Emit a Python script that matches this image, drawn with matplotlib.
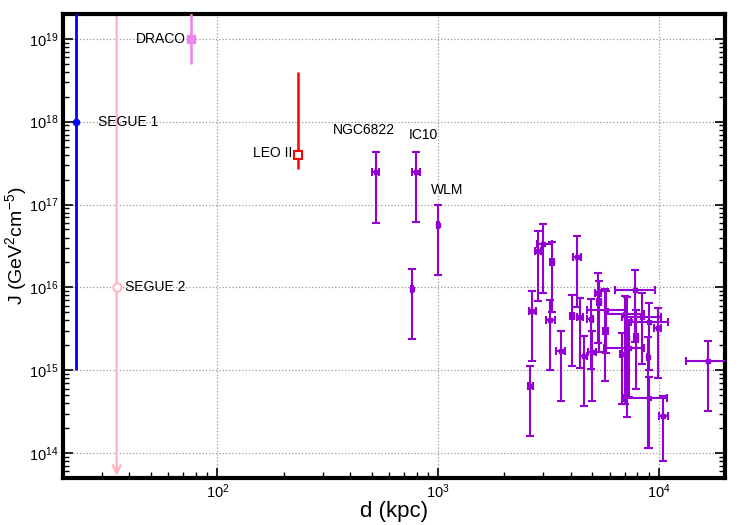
import matplotlib
matplotlib.use("Agg")
import matplotlib.pyplot as plt
import numpy as np
from matplotlib.ticker import LogLocator, NullFormatter

plt.rcParams["font.family"] = ["Liberation Sans", "DejaVu Sans"]
plt.rcParams["mathtext.default"] = "regular"

# --- named dwarfs (d in kpc, J in GeV^2 cm^-5) ---
seg1_d, seg1_J, seg1_lo, seg1_hi = 23.0, 1e18, 1e15, 1e20
seg2_d, seg2_J = 35.0, 1e16
draco_d, draco_J, draco_lo, draco_hi = 76.0, 1e19, 5e18, 1e20
leo2_d, leo2_J, leo2_lo, leo2_hi = 233.0, 4.0e17, 2.7e17, 4.0e18

# --- purple sample: d, J, J low, J high, d low, d high ---
gal_d = [522, 794, 995, 764,
         2618, 2674, 2848, 2999, 3288, 3228, 3589, 4056, 4267, 4405, 4577,
         4909, 4960, 5297, 5355, 5730, 5763, 7050, 7784, 7890, 7180, 6815,
         7310, 8400, 8913, 9010, 9890, 10420, 9010, 16650]
gal_J = [2.44e17, 2.5e17, 5.6e16, 9.6e15,
         6.46e14, 5.22e15, 2.78e16, 3.37e16, 2.04e16, 4.03e15, 1.7e15, 4.54e15,
         2.35e16, 4.34e15, 1.49e15, 4.18e15, 1.67e15, 8.6e15, 6.7e15, 2.99e15,
         5.4e15, 4.71e15, 9.3e15, 2.53e15, 2.42e15, 1.59e15, 1.83e15, 4.4e15,
         1.45e15, 3.85e15, 3.25e15, 2.8e14, 4.67e14, 1.29e15]
gal_Jlo = [6.0e16, 6.1e16, 1.4e16, 2.4e15,
           1.61e14, 1.29e15, 6.9e15, 8.46e15, 5.08e15, 1.0e15, 4.2e14, 1.14e15,
           5.84e15, 1.07e15, 3.7e14, 1.04e15, 4.2e14, 2.14e15, 1.67e15, 7.4e14,
           1.6e15, 3.95e14, 2.2e15, 6.0e14, 2.72e14, 3.95e14, 4.75e14, 1.2e15,
           1.16e14, 1.0e15, 8.1e14, 8.0e13, 1.16e14, 3.2e14]
gal_Jhi = [4.25e17, 4.3e17, 9.8e16, 1.66e16,
           1.14e15, 9.1e15, 4.84e16, 5.83e16, 3.5e16, 7.03e15, 2.97e15, 8.0e15,
           4.14e16, 7.5e15, 2.58e15, 7.3e15, 2.97e15, 1.5e16, 1.18e16, 9.5e15,
           9.0e15, 7.85e15, 1.62e16, 5.3e15, 7.7e15, 2.78e15, 4.0e15, 8.6e15,
           2.53e15, 6.5e15, 5.7e15, 4.9e14, 8.3e14, 2.24e15]
gal_dlo = [502, 759, 985, 754,
           2547, 2577, 2762, 2806, 3220, 3075, 3428, 3950, 4100, 4270, 4410,
           4750, 4790, 5120, 5230, 5560, 4720, 5730, 6310, 7700, 7000, 6650,
           5650, 6810, 8800, 7450, 9550, 10000, 6870, 13320]
gal_dhi = [542, 830, 1005, 774,
           2692, 2782, 2939, 3273, 3360, 3388, 3767, 4150, 4450, 4550, 4750,
           5050, 5170, 5480, 5480, 5900, 7050, 8550, 9590, 8080, 7360, 7000,
           8600, 10200, 9030, 11000, 10250, 11000, 10850, 22000]

gal_names = ["NGC6822", "IC10", "WLM"]

purple = "#9400d3"
fig = plt.figure(figsize=(7.5, 5.25), dpi=100)
ax = fig.add_axes([0.084, 0.0895, 0.883, 0.884])
ax.set_xscale("log")
ax.set_yscale("log")

gd = np.array(gal_d, float)
gJ = np.array(gal_J, float)
yerr = [gJ - np.array(gal_Jlo), np.array(gal_Jhi) - gJ]
xerr = [gd - np.array(gal_dlo), np.array(gal_dhi) - gd]
ax.errorbar(gd, gJ, yerr=yerr, xerr=xerr, fmt="s", ms=3, color=purple,
            ecolor=purple, elinewidth=1.5, capsize=3, capthick=1.5, zorder=3)

ax.errorbar([seg1_d], [seg1_J], yerr=[[seg1_J - seg1_lo], [seg1_hi - seg1_J]],
            fmt="o", ms=4.5, color="#0000ff", elinewidth=2, capsize=0, zorder=4)
# upper limit for SEGUE 2: line from the top of the frame with arrow at the bottom
ax.annotate("", xy=(seg2_d, 5.3e13), xytext=(seg2_d, 2e19),
            arrowprops=dict(arrowstyle="->", color="#ffb6c1", lw=1.8,
                            mutation_scale=14, shrinkA=0, shrinkB=0), zorder=2)
ax.plot([seg2_d], [seg2_J], "o", ms=6, mfc="white", mec="#ffb6c1", mew=1.5, zorder=4)
ax.errorbar([draco_d], [draco_J], yerr=[[draco_J - draco_lo], [draco_hi - draco_J]],
            fmt="s", ms=6, color="#ee82ee", elinewidth=1.8, capsize=0, zorder=4)
ax.errorbar([leo2_d], [leo2_J], yerr=[[leo2_J - leo2_lo], [leo2_hi - leo2_J]],
            fmt="s", ms=5.5, mfc="white", mec="red", mew=1.5, color="red",
            elinewidth=1.8, capsize=0, zorder=4)

fs = 10
ax.text(72, 1e19, "DRACO", ha="right", va="center", fontsize=fs)
ax.text(28.8, 1e18, "SEGUE 1", ha="left", va="center", fontsize=fs)
ax.text(219, 4.2e17, "LEO II", ha="right", va="center", fontsize=fs)
ax.text(38.2, 1e16, "SEGUE 2", ha="left", va="center", fontsize=fs)
ax.text(461, 8e17, gal_names[0], ha="center", va="center", fontsize=fs)
ax.text(855, 6.9e17, gal_names[1], ha="center", va="center", fontsize=fs)
ax.text(1098, 1.48e17, gal_names[2], ha="center", va="center", fontsize=fs)

ax.set_xlim(20, 20000)
ax.set_ylim(5e13, 2e19)
ax.set_xticks([1e2, 1e3, 1e4])
ax.set_xticklabels(["$10^{2}$", "$10^{3}$", "$10^{4}$"])
ax.set_yticks([1e14, 1e15, 1e16, 1e17, 1e18, 1e19])
ax.set_yticklabels(["$10^{%d}$" % k for k in range(14, 20)])
ax.xaxis.set_minor_locator(LogLocator(base=10, subs=np.arange(2, 10), numticks=20))
ax.yaxis.set_minor_locator(LogLocator(base=10, subs=np.arange(2, 10), numticks=20))
ax.xaxis.set_minor_formatter(NullFormatter())
ax.yaxis.set_minor_formatter(NullFormatter())
ax.tick_params(which="both", direction="in", top=False, right=True, labelsize=10.5)
ax.tick_params(which="major", length=7, width=1.2)
ax.tick_params(which="minor", length=4, width=1.0)
ax.grid(True, which="major", ls=":", color="#999999", lw=0.9)
for sp in ax.spines.values():
    sp.set_linewidth(3)

ax.set_xlabel("d (kpc)", fontsize=16, labelpad=0)
ax.set_ylabel("J (GeV$^{2}$cm$^{-5}$)", fontsize=14, labelpad=0)

fig.savefig("out.png", dpi=100)
